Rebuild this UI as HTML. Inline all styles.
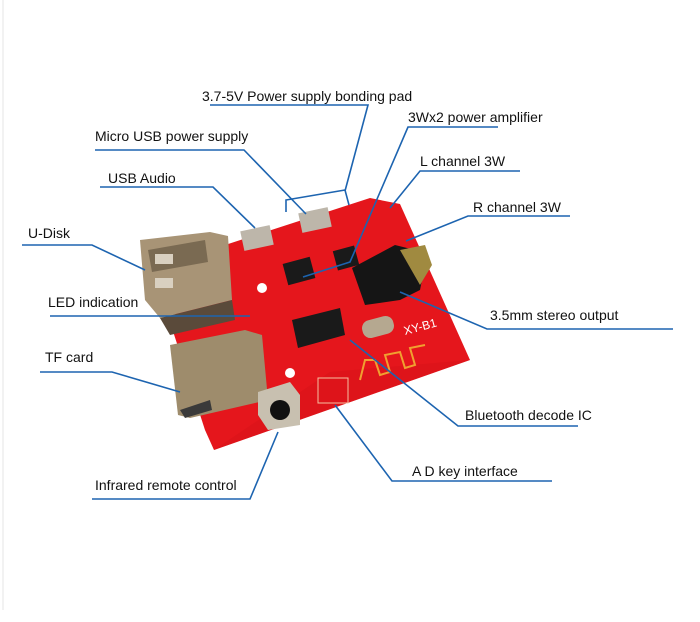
<!DOCTYPE html>
<html><head><meta charset="utf-8"><style>
html,body{margin:0;padding:0;background:#fff;width:700px;height:622px;overflow:hidden}
svg{display:block}
text{font-family:"Liberation Sans",sans-serif;font-size:14px;fill:#111}
</style></head><body>
<svg width="700" height="622" viewBox="0 0 700 622">
<line x1="3" y1="0" x2="3" y2="610" stroke="#e6e6e6" stroke-width="1"/>
<!-- board -->
<polygon points="222,246 370,198 400,204 470,360 214,450 205,430 170,322" fill="#e5161c"/>
<polygon points="330,372 470,360 214,450" fill="#d81217" opacity="0.5"/>
<!-- USB A -->
<polygon points="140,240 210,232 228,236 232,300 160,318 145,300" fill="#a89476"/>
<polygon points="148,250 205,240 208,262 152,272" fill="#7a6a52"/>
<rect x="155" y="254" width="18" height="10" fill="#d9d0c0"/>
<rect x="155" y="278" width="18" height="10" fill="#d9d0c0"/>
<polygon points="160,318 232,300 235,320 170,335" fill="#5a4a3a"/>
<!-- TF card -->
<polygon points="170,345 245,330 262,335 268,400 190,418 178,415" fill="#9e8c6c"/>
<polygon points="180,410 210,400 212,410 185,418" fill="#3a3a3a"/>
<!-- IR receiver -->
<polygon points="258,392 290,382 300,395 300,425 268,430 258,415" fill="#c8c0b0"/>
<circle cx="280" cy="410" r="10" fill="#111"/>
<!-- micro usb -->
<rect x="242" y="228" width="30" height="20" fill="#bdb6aa" transform="rotate(-12 257 238)"/>
<rect x="300" y="210" width="30" height="20" fill="#bdb6aa" transform="rotate(-12 315 220)"/>
<!-- amp chips -->
<rect x="285" y="260" width="28" height="22" fill="#1a1a1a" transform="rotate(-15 299 271)"/>
<rect x="335" y="248" width="22" height="20" fill="#1a1a1a" transform="rotate(-15 346 258)"/>
<!-- jack -->
<polygon points="352,268 395,245 415,250 425,265 420,290 400,300 365,305" fill="#151515"/>
<polygon points="400,250 425,245 432,265 420,285" fill="#a08a40"/>
<!-- BT IC -->
<polygon points="292,320 340,308 345,335 298,348" fill="#1a1a1a"/>
<!-- crystal -->
<rect x="362" y="318" width="32" height="18" rx="8" fill="#b5a890" transform="rotate(-15 378 327)"/>
<!-- holes -->
<circle cx="262" cy="288" r="5" fill="#fff"/>
<circle cx="290" cy="373" r="5" fill="#fff"/>
<text x="405" y="335" style="font-size:12px;fill:#fff" transform="rotate(-15 405 335)">XY-B1</text>
<polyline points="360,380 365,360 375,360 380,375 390,372 385,355 400,352 405,368 415,365 410,348 425,345" fill="none" stroke="#f0a030" stroke-width="2"/>
<rect x="318" y="378" width="30" height="25" fill="none" stroke="#f5c0a0" stroke-width="1"/>
<!-- connectors -->
<g fill="none" stroke="#1d64b0" stroke-width="1.6">
<polyline points="210,105 368,105 345,191"/>
<polyline points="286,212 286,200 345,190 349,205"/>
<polyline points="95,150 244,150 306,214"/>
<polyline points="100,187 213,187 255,228"/>
<polyline points="498,127 408,127 350,262 303,277"/>
<polyline points="520,171 420,171 390,208"/>
<polyline points="570,216 468,216 406,241"/>
<polyline points="22,245 92,245 145,270"/>
<polyline points="50,316 250,316"/>
<polyline points="40,372 112,372 180,392"/>
<polyline points="92,499 250,499 278,432"/>
<polyline points="673,329 487,329 400,292"/>
<polyline points="578,426 458,426 350,340"/>
<polyline points="552,481 392,481 335,405"/>
</g>
<!-- labels -->
<text x="202" y="101">3.7-5V Power supply bonding pad</text>
<text x="95" y="141">Micro USB power supply</text>
<text x="108" y="183">USB Audio</text>
<text x="408" y="122">3Wx2 power amplifier</text>
<text x="420" y="166">L channel 3W</text>
<text x="473" y="212">R channel 3W</text>
<text x="28" y="238">U-Disk</text>
<text x="48" y="307">LED indication</text>
<text x="45" y="362">TF card</text>
<text x="95" y="490">Infrared remote control</text>
<text x="490" y="320">3.5mm stereo output</text>
<text x="465" y="420">Bluetooth decode IC</text>
<text x="412" y="476">A D key interface</text>
</svg>
</body></html>
